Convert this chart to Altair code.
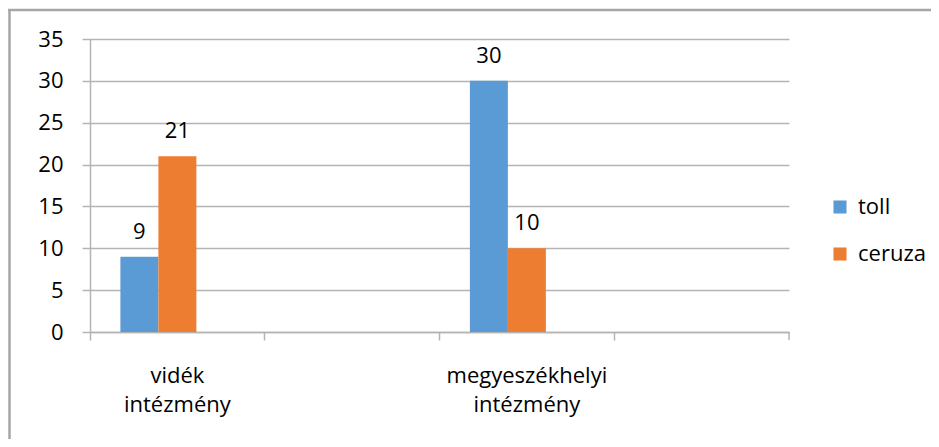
import altair as alt
import pandas as pd

# ---- data ----
categories = ["vidék intézmény", "x2", "megyeszékhelyi intézmény", "x4"]
data_categories = ["vidék intézmény", "megyeszékhelyi intézmény"]
series = ["toll", "ceruza"]
toll = [9, 30]
ceruza = [21, 10]
offset_slots = ["toll", "ceruza", "_"]
y_ticks = [0, 5, 10, 15, 20, 25, 30, 35]

rows = []
for i, c in enumerate(data_categories):
    rows.append({"kat": c, "sorozat": "toll", "ertek": toll[i]})
    rows.append({"kat": c, "sorozat": "ceruza", "ertek": ceruza[i]})
df = pd.DataFrame(rows)

BLUE = "#5B9BD5"
ORANGE = "#ED7D31"
GRID = "#B4B4B4"
FONT = "Open Sans"
FS = 22
W, H = 699, 293

base = alt.Chart(df).encode(
    x=alt.X(
        "kat:N",
        title=None,
        sort=categories,
        scale=alt.Scale(domain=categories, paddingInner=0, paddingOuter=0),
        axis=alt.Axis(
            bandPosition=0,
            labelAngle=0,
            labelExpr="datum.value == 'x2' || datum.value == 'x4' ? '' : split(datum.value, ' ')",
            labelBaseline="top",
            labelLineHeight=29,
            labelPadding=25,
            labelFontSize=FS,
            labelColor="#000000",
            labelLimit=400,
            labelOverlap=False,
            domainColor=GRID,
            domainWidth=1.5,
            tickColor=GRID,
            tickWidth=1.5,
            tickSize=8,
            grid=False,
        ),
    ),
    xOffset=alt.XOffset(
        "sorozat:N",
        scale=alt.Scale(domain=offset_slots, paddingInner=0, paddingOuter=0.8),
    ),
    y=alt.Y(
        "ertek:Q",
        title=None,
        scale=alt.Scale(domain=[0, 35], nice=False),
        axis=alt.Axis(
            values=y_ticks,
            labelFontSize=FS,
            labelColor="#000000",
            labelPadding=19,
            domainColor=GRID,
            domainWidth=1.5,
            tickColor=GRID,
            tickWidth=1.5,
            tickSize=8,
            gridColor=GRID,
            gridWidth=1.5,
        ),
    ),
)

bars = base.mark_bar().encode(
    color=alt.Color(
        "sorozat:N",
        scale=alt.Scale(domain=series, range=[BLUE, ORANGE]),
        legend=alt.Legend(
            title=None,
            orient="none",
            legendX=739,
            legendY=157,
            symbolType="square",
            symbolSize=170,
            symbolStrokeWidth=0,
            labelFontSize=FS,
            labelColor="#000000",
            labelOffset=7,
            rowPadding=25,
            padding=0,
        ),
    )
)

labels = base.mark_text(dy=-25, baseline="middle", fontSize=FS, color="#000000").encode(
    text="ertek:Q"
)

one = pd.DataFrame({"a": [0]})
last_tick = alt.Chart(one).mark_rule(color=GRID, strokeWidth=1.5).encode(
    x=alt.value(W), y=alt.value(H), y2=alt.value(H + 8)
)
border_top = alt.Chart(one).mark_rule(color="#A6A6A6", strokeWidth=2.5).encode(
    x=alt.value(-82), x2=alt.value(W + 200), y=alt.value(-29)
)
border_left = alt.Chart(one).mark_rule(color="#A6A6A6", strokeWidth=2.5).encode(
    x=alt.value(-80.5), y=alt.value(-30), y2=alt.value(H + 200)
)

chart = (
    alt.layer(border_top, border_left, bars, labels, last_tick)
    .properties(
        width=W,
        height=H,
        autosize=alt.AutoSizeParams(type="none"),
        padding={"left": 82, "top": 31, "right": 142, "bottom": 107},
    )
    .configure(font=FONT)
    .configure_view(strokeWidth=0)
)

chart.save("out.html", embed_options={"renderer": "svg", "actions": False})
